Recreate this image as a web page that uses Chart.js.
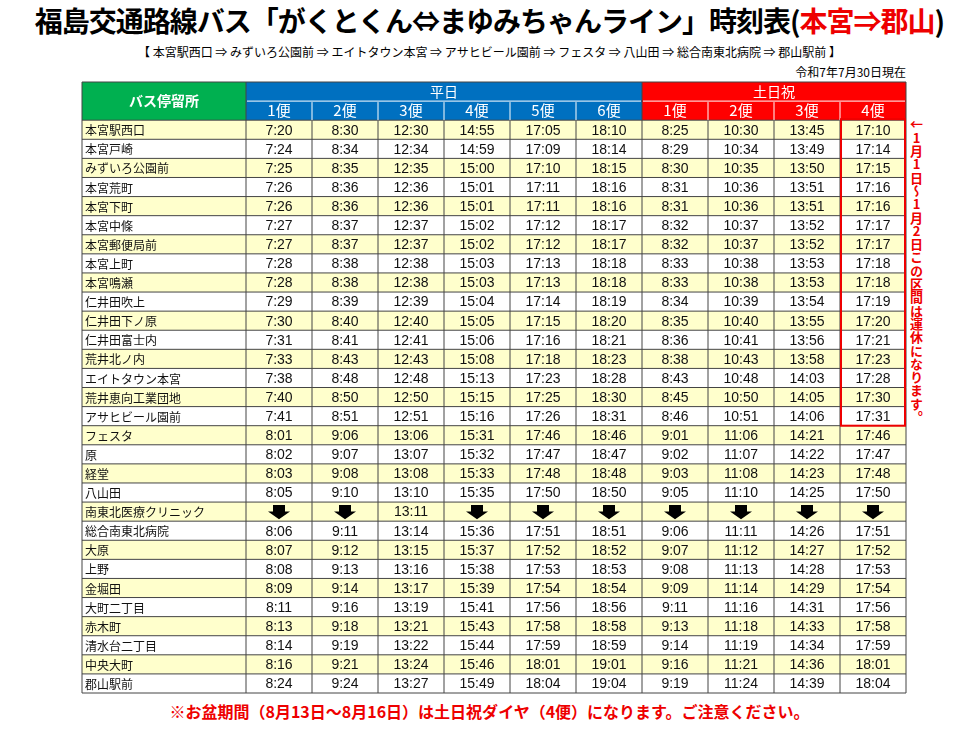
<!DOCTYPE html>
<html><head><meta charset="utf-8">
<script src="https://cdn.jsdelivr.net/npm/chart.js@4/dist/chart.umd.min.js"></script>
<style>
body{margin:0;width:979px;height:733px;background:#fff;position:relative;overflow:hidden;font-family:"Noto Sans CJK JP",sans-serif}
#c{position:absolute;left:0;top:0}
.t{position:absolute;white-space:nowrap}
</style></head><body>
<div class="t" style="left:0;width:979px;top:0px;text-align:center;font-size:28px;font-weight:bold;letter-spacing:-1px">福島交通路線バス「がくとくん⇔まゆみちゃんライン」時刻表(<span style="color:#e00">本宮⇒郡山</span>)</div>
<div class="t" style="left:0;width:979px;top:43px;text-align:center;font-size:12px">【 本宮駅西口 ⇒ みずいろ公園前 ⇒ エイトタウン本宮 ⇒ アサヒビール園前 ⇒ フェスタ ⇒ 八山田 ⇒ 総合南東北病院 ⇒ 郡山駅前 】</div>
<div class="t" style="right:73px;top:63px;font-size:12px">令和7年7月30日現在</div>
<div class="t" style="left:909px;top:118px;writing-mode:vertical-rl;text-orientation:upright;color:#e00;font-weight:bold;font-size:13px;line-height:14px;letter-spacing:0.3px">←1月1日～1月2日この区間は運休になります。</div>
<div class="t" style="left:0;width:979px;top:699px;text-align:center;font-size:16px;font-weight:bold;color:#e00">※お盆期間（8月13日～8月16日）は土日祝ダイヤ（4便）になります。ご注意ください。</div>
<canvas id="c" width="979" height="733"></canvas>
<script>
const stops=["本宮駅西口","本宮戸崎","みずいろ公園前","本宮荒町","本宮下町","本宮中條","本宮郵便局前","本宮上町","本宮鳴瀬","仁井田吹上","仁井田下ノ原","仁井田富士内","荒井北ノ内","エイトタウン本宮","荒井恵向工業団地","アサヒビール園前","フェスタ","原","経堂","八山田","南東北医療クリニック","総合南東北病院","大原","上野","金堀田","大町二丁目","赤木町","清水台二丁目","中央大町","郡山駅前"];
const weekday1=["7:20","7:24","7:25","7:26","7:26","7:27","7:27","7:28","7:28","7:29","7:30","7:31","7:33","7:38","7:40","7:41","8:01","8:02","8:03","8:05",null,"8:06","8:07","8:08","8:09","8:11","8:13","8:14","8:16","8:24"];
const weekday2=["8:30","8:34","8:35","8:36","8:36","8:37","8:37","8:38","8:38","8:39","8:40","8:41","8:43","8:48","8:50","8:51","9:06","9:07","9:08","9:10",null,"9:11","9:12","9:13","9:14","9:16","9:18","9:19","9:21","9:24"];
const weekday3=["12:30","12:34","12:35","12:36","12:36","12:37","12:37","12:38","12:38","12:39","12:40","12:41","12:43","12:48","12:50","12:51","13:06","13:07","13:08","13:10","13:11","13:14","13:15","13:16","13:17","13:19","13:21","13:22","13:24","13:27"];
const weekday4=["14:55","14:59","15:00","15:01","15:01","15:02","15:02","15:03","15:03","15:04","15:05","15:06","15:08","15:13","15:15","15:16","15:31","15:32","15:33","15:35",null,"15:36","15:37","15:38","15:39","15:41","15:43","15:44","15:46","15:49"];
const weekday5=["17:05","17:09","17:10","17:11","17:11","17:12","17:12","17:13","17:13","17:14","17:15","17:16","17:18","17:23","17:25","17:26","17:46","17:47","17:48","17:50",null,"17:51","17:52","17:53","17:54","17:56","17:58","17:59","18:01","18:04"];
const weekday6=["18:10","18:14","18:15","18:16","18:16","18:17","18:17","18:18","18:18","18:19","18:20","18:21","18:23","18:28","18:30","18:31","18:46","18:47","18:48","18:50",null,"18:51","18:52","18:53","18:54","18:56","18:58","18:59","19:01","19:04"];
const holiday1=["8:25","8:29","8:30","8:31","8:31","8:32","8:32","8:33","8:33","8:34","8:35","8:36","8:38","8:43","8:45","8:46","9:01","9:02","9:03","9:05",null,"9:06","9:07","9:08","9:09","9:11","9:13","9:14","9:16","9:19"];
const holiday2=["10:30","10:34","10:35","10:36","10:36","10:37","10:37","10:38","10:38","10:39","10:40","10:41","10:43","10:48","10:50","10:51","11:06","11:07","11:08","11:10",null,"11:11","11:12","11:13","11:14","11:16","11:18","11:19","11:21","11:24"];
const holiday3=["13:45","13:49","13:50","13:51","13:51","13:52","13:52","13:53","13:53","13:54","13:55","13:56","13:58","14:03","14:05","14:06","14:21","14:22","14:23","14:25",null,"14:26","14:27","14:28","14:29","14:31","14:33","14:34","14:36","14:39"];
const holiday4=["17:10","17:14","17:15","17:16","17:16","17:17","17:17","17:18","17:18","17:19","17:20","17:21","17:23","17:28","17:30","17:31","17:46","17:47","17:48","17:50",null,"17:51","17:52","17:53","17:54","17:56","17:58","17:59","18:01","18:04"];
const runLabels=["1便","2便","3便","4便","5便","6便","1便","2便","3便","4便"];
const groupLabels=["バス停留所","平日","土日祝"];
const suspendedRows=16;
const columns=[weekday1,weekday2,weekday3,weekday4,weekday5,weekday6,holiday1,holiday2,holiday3,holiday4];

const X0=2.485;
const tablePlugin={id:'table',beforeDatasetsDraw(chart){
  const ctx=chart.ctx,xs=chart.scales.x,ys=chart.scales.y;
  const X=v=>xs.getPixelForValue(v),Y=v=>ys.getPixelForValue(v);
  const colL=i=>X(X0+i), colR=i=>X(X0+i+1);
  ctx.save();
  ctx.fillStyle='#00b050';ctx.fillRect(X(0),Y(0),X(X0)-X(0),Y(2)-Y(0));
  ctx.fillStyle='#0070c0';ctx.fillRect(colL(0),Y(0),colR(5)-colL(0),Y(2)-Y(0));
  ctx.fillStyle='#ff0000';ctx.fillRect(colL(6),Y(0),colR(9)-colL(6),Y(2)-Y(0));
  ctx.fillStyle='#fff';ctx.textAlign='center';ctx.textBaseline='middle';
  ctx.font='bold 14px "Noto Sans CJK JP"';
  ctx.fillText(groupLabels[0],(X(0)+X(X0))/2,Y(1));
  ctx.font='14px "Noto Sans CJK JP"';
  ctx.fillText(groupLabels[1],(colL(0)+colR(5))/2,Y(0.5));
  ctx.fillText(groupLabels[2],(colL(6)+colR(9))/2,Y(0.5));
  ctx.font='15px "Noto Sans CJK JP"';
  runLabels.forEach((l,i)=>ctx.fillText(l,(colL(i)+colR(i))/2,Y(1.5)));
  stops.forEach((s,r)=>{
    const y0=Y(r+2),y1=Y(r+3),ym=(y0+y1)/2;
    ctx.fillStyle=r%2===0?'#ffffcc':'#ffffff';
    ctx.fillRect(X(0),y0,colR(9)-X(0),y1-y0);
    ctx.fillStyle='#111';ctx.textAlign='left';ctx.font='12px "Noto Sans CJK JP"';
    ctx.fillText(s,X(0)+3,ym+1);
    ctx.textAlign='center';ctx.font='14px "Liberation Sans"';
    columns.forEach((col,i)=>{
      const cx=(colL(i)+colR(i))/2,v=col[r];
      if(v!==null){ctx.fillStyle='#111';ctx.fillText(v,cx,ym+1);}
      else{ctx.fillStyle='#000';ctx.beginPath();
        ctx.moveTo(cx-6,y0+3);ctx.lineTo(cx+6,y0+3);ctx.lineTo(cx+6,ym);ctx.lineTo(cx+11,ym);
        ctx.lineTo(cx,y1-2);ctx.lineTo(cx-11,ym);ctx.lineTo(cx-6,ym);ctx.closePath();ctx.fill();}
    });
  });
  ctx.strokeStyle='#444';ctx.lineWidth=1;ctx.beginPath();
  for(let r=2;r<=32;r++){ctx.moveTo(X(0),Y(r));ctx.lineTo(colR(9),Y(r));}
  ctx.moveTo(X(0),Y(0));ctx.lineTo(colR(9),Y(0));
  ctx.moveTo(X(0),Y(0));ctx.lineTo(X(0),Y(32));
  for(let i=0;i<10;i++){ctx.moveTo(colR(i),Y(i===5||i===9?0:2));ctx.lineTo(colR(i),Y(32));}
  ctx.moveTo(colL(0),Y(0));ctx.lineTo(colL(0),Y(32));
  ctx.stroke();
  ctx.strokeStyle='#fff';ctx.beginPath();
  for(let i=0;i<9;i++){if(i===5)continue;ctx.moveTo(colR(i),Y(1)+1);ctx.lineTo(colR(i),Y(2));}
  ctx.moveTo(colL(0)+1,Y(1));ctx.lineTo(colR(5)-1,Y(1));ctx.moveTo(colL(6)+1,Y(1));ctx.lineTo(colR(9)-1,Y(1));
  ctx.stroke();
  ctx.strokeStyle='#e00';ctx.lineWidth=2;
  ctx.strokeRect(colL(9)+1,Y(2)-1,colR(9)-colL(9)-2,Y(2+suspendedRows)-Y(2)+1);
  ctx.restore();
}};
new Chart(document.getElementById('c'),{type:'scatter',
  data:{datasets:[{data:[],pointRadius:0}]},
  options:{responsive:false,animation:false,
    layout:{padding:{left:82,right:73,top:82,bottom:40}},
    plugins:{legend:{display:false},tooltip:{enabled:false}},
    scales:{x:{type:'linear',min:0,max:X0+10,display:false},
            y:{type:'linear',min:0,max:32,reverse:true,display:false}}},
  plugins:[tablePlugin]});
</script></body></html>
